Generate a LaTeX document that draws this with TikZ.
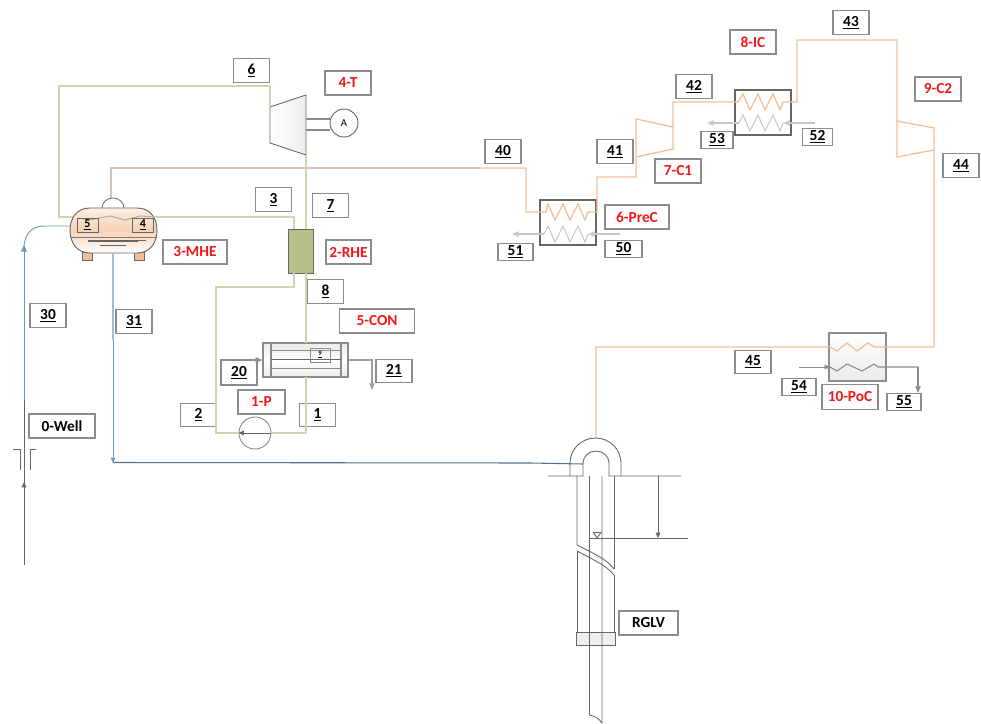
\documentclass[tikz,border=0pt]{standalone}
\usepackage{fontspec}
\setmainfont{Carlito}
\usetikzlibrary{arrows.meta,calc}
\definecolor{pgreen}{HTML}{CDD6AE}
\definecolor{rhegreen}{HTML}{B4C087}
\definecolor{porange}{HTML}{F4BE96}
\definecolor{pgrey}{HTML}{C8C8C8}
\definecolor{pblue}{HTML}{6F97BF}
\definecolor{pblue2}{HTML}{A3BBD6}
\definecolor{pdark}{HTML}{666666}
\definecolor{bordergrey}{HTML}{8C8C8C}
\definecolor{lblred}{HTML}{F01818}
\def\PX{0.75pt}
\tikzset{
  x=0.75pt,y=-0.75pt,
  tag/.style={draw=bordergrey,line width=0.85pt,inner sep=0pt,font=\fontsize{11.5}{13}\selectfont\bfseries,text=black},
  numtag/.style={tag,minimum width=36*\PX,minimum height=23.5*\PX},
  lowtag/.style={tag,minimum width=34*\PX,minimum height=16.5*\PX},
  redtag/.style={tag,text=lblred,minimum height=24*\PX},
  greenp/.style={draw=pgreen,line width=0.8pt},
  orangep/.style={draw=porange,line width=0.95pt},
  greyp/.style={draw=pgrey,line width=0.8pt},
  bluep/.style={draw=pblue,line width=0.7pt},
  well/.style={draw=pdark,line width=0.65pt},
  hxbox/.style={draw=pdark,line width=0.8pt,minimum width=56*\PX,minimum height=45*\PX,inner sep=0pt},
  greytip/.style={-{Triangle[length=5pt,width=4pt]}},
  darktip/.style={-{Triangle[length=4pt,width=3.5pt]}},
}
\newcommand{\nm}[1]{\underline{#1}}
\begin{document}
\begin{tikzpicture}
\useasboundingbox (0,0) rectangle (981,724);

% ---- text tags
\node[numtag] (t6) at (251.5,70.5) {\nm{6}};
\node[redtag,minimum width=46*\PX] (rT) at (348,83) {4-T};
\node[numtag] (t3) at (273.5,199.5) {\nm{3}};
\node[numtag] (t7) at (330.5,205.5) {\nm{7}};
\node[redtag,minimum width=45*\PX] (rRHE) at (348.5,252) {2-RHE};
\node[redtag,minimum width=64*\PX] (rMHE) at (195,252) {3-MHE};
\node[numtag] (t8) at (325.5,291.5) {\nm{8}};
\node[redtag,minimum width=75*\PX] (rCON) at (377,321) {5-CON};
\node[numtag] (t30) at (48,315.5) {\nm{30}};
\node[numtag] (t31) at (134,321.5) {\nm{31}};
\node[numtag,minimum height=25*\PX] (t20) at (239,372.5) {\nm{20}};
\node[numtag] (t21) at (394,371) {\nm{21}};
\node[numtag] (t2) at (198.5,415) {\nm{2}};
\node[redtag,minimum width=47*\PX] (rP) at (261.5,402) {1-P};
\node[numtag] (t1) at (317.5,415) {\nm{1}};
\node[tag,minimum width=66*\PX,minimum height=24*\PX] (tW) at (62,426) {0-Well};
\node[numtag] (t40) at (503,151.5) {\nm{40}};
\node[numtag] (t41) at (615,151.5) {\nm{41}};
\node[numtag] (t42) at (694,86.5) {\nm{42}};
\node[numtag] (t43) at (851,22.5) {\nm{43}};
\node[redtag,minimum width=46*\PX] (rIC) at (753,42) {8-IC};
\node[redtag,minimum width=46*\PX] (rC2) at (938,89) {9-C2};
\node[numtag] (t44) at (961,165.5) {\nm{44}};
\node[lowtag,minimum width=32*\PX] (t53) at (717,140) {\nm{53}};
\node[lowtag,minimum width=30*\PX] (t52) at (817.5,137) {\nm{52}};
\node[redtag,minimum width=46*\PX] (rC1) at (678,171) {7-C1};
\node[redtag,minimum width=64*\PX] (rPre) at (637,217) {6-PreC};
\node[lowtag,minimum width=35*\PX] (t51) at (515.5,252) {\nm{51}};
\node[lowtag,minimum width=37*\PX] (t50) at (623.5,249) {\nm{50}};
\node[numtag] (t45) at (753,362) {\nm{45}};
\node[lowtag] (t54) at (799,387) {\nm{54}};
\node[redtag,minimum width=56*\PX,minimum height=25*\PX] (rPoC) at (850,397) {10-PoC};
\node[lowtag] (t55) at (904,402) {\nm{55}};
\node[redtag,text=black,minimum width=59*\PX] (tR) at (648.5,623) {RGLV};

% ---- equipment
\node[hxbox,fill=white] (PRE) at (568,222.5) {};
\node[hxbox,fill=white] (IC) at (763,112.5) {};
\node[hxbox,draw=bordergrey,top color=white,bottom color=black!8,minimum width=57*\PX,minimum height=48*\PX] (POC) at (857.5,357) {};
\node[draw=pdark,line width=0.6pt,minimum width=25*\PX,minimum height=44*\PX,inner sep=0pt,fill=rhegreen] (RHE) at (300.5,251) {};

% turbine
\coordinate (Ta) at (270,107); \coordinate (Tb) at (306,95);
\coordinate (Tc) at (306,155); \coordinate (Td) at (270,143);
\path[left color=white,right color=black!7] (Ta)--(Tb)--(Tc)--(Td)--cycle;
\draw[draw=pdark,line width=0.7pt] (Ta)--(Tb)--(Tc)--(Td)--cycle;
\node[circle,draw=pdark,line width=0.7pt,minimum size=28*\PX,inner sep=0pt,font=\fontsize{8}{9}\selectfont] (GEN) at (344,123) {A};
\draw[draw=bordergrey,line width=0.8pt] (306,119) -- (GEN.west |- 0,119);
\draw[draw=bordergrey,line width=0.8pt] (306,130) -- (GEN.west |- 0,130);

% compressors
\coordinate (Aa) at (636,119); \coordinate (Ab) at (673,127);
\coordinate (Ac) at (673,149); \coordinate (Ad) at (636,157);
\draw[orangep] (Aa)--(Ab)--(Ac)--(Ad)--cycle;
\coordinate (Ba) at (897,121); \coordinate (Bb) at (934,128);
\coordinate (Bc) at (934,150); \coordinate (Bd) at (897,157);
\draw[orangep] (Ba)--(Bb)--(Bc)--(Bd)--cycle;

% condenser
\node[draw=bordergrey,line width=0.9pt,top color=black!8,bottom color=black!8,middle color=white,minimum width=85*\PX,minimum height=34*\PX,inner sep=0pt] (CON) at (305.5,360) {};
\draw[bordergrey,line width=0.9pt] (271,343)--(271,377) (341,343)--(341,377);
\draw[bordergrey,line width=0.7pt] (271,350)--(341,350) (271,368)--(341,368);
\draw[pdark,line width=0.6pt] (271,359)--(341,359);
\node[draw=bordergrey,line width=0.7pt,minimum width=20*\PX,minimum height=14*\PX,inner sep=0pt,font=\fontsize{5}{6}\selectfont\bfseries] (t9) at (320,355) {\nm{9}};

% pump
\node[circle,draw=bordergrey,line width=0.7pt,minimum size=32*\PX,inner sep=0pt] (PUMP) at (255,433) {};

% ---- pipes
\coordinate (v6) at (59,86);
\coordinate (e3) at (59,217);
\draw[greenp] (Ta) |- (v6) -- (e3) -- (78,217);
\draw[greenp] (157,217) -- (294,217) -- (294,229);
\draw[greenp] (294,273) -- (294,287) -- (216,287) -- (216,433) -- (PUMP.west);
\draw[greenp] (306,155) -- (306,229);
\draw[greenp] (306,273) -- (306,343);
\draw[greenp] (306,377) -- (306,433) -- (PUMP.east);
\draw[darktip,draw=pdark,fill=pdark,line width=0.5pt] (PUMP.east) -- (PUMP.west);

\draw[draw=pgrey!70!porange,line width=0.9pt] (111,198) -- (111,168) -- (480,168);
\draw[orangep] (480,168) -- (526,168) -- (526,212) -- (546,212)
  -- (548,204) -- (555,220) -- (563,204) -- (570,220) -- (578,204) -- (585,220) -- (588,212) -- (597,212)
  -- (597,177) -- (636,177) -- (Ad);
\draw[orangep] (Ab) -- (673,102) -- (738,102)
  -- (743,94) -- (750,110) -- (758,94) -- (765,110) -- (773,94) -- (780,110) -- (783,102) -- (797,102)
  -- (797,40) -- (897,40) -- (Ba);
\draw[orangep] (Bc) -- (934,347) -- (874,347) -- (868,343) -- (857,351) -- (847,343) -- (837,351) -- (830,347) -- (596,347) -- (596,438);

% cooling water streams
\draw[greyp,greytip,fill=pgrey] (620,234) -- (588,234);
\draw[greyp] (588,234) -- (585,242) -- (578,226) -- (570,242) -- (563,226) -- (555,242) -- (548,226) -- (544,234);
\draw[greyp,greytip,fill=pgrey] (544,234) -- (512,234);
\draw[greyp,greytip,fill=pgrey] (815,123) -- (783,123);
\draw[greyp] (783,123) -- (780,131) -- (773,115) -- (765,131) -- (758,115) -- (750,131) -- (743,115) -- (739,123);
\draw[greyp,greytip,fill=pgrey] (739,123) -- (707,123);
\draw[draw=bordergrey,line width=0.7pt,darktip] (799,367) -- (830,367);
\draw[draw=bordergrey,line width=0.8pt] (830,367) -- (837,371) -- (847,364) -- (862,371) -- (874,364) -- (878,367) -- (918,367);
\draw[draw=bordergrey,line width=0.8pt,greytip] (918,367) -- (918,393);
\draw[draw=bordergrey,line width=0.7pt,greytip] (221,360) -- (CON.west |- 0,360);
\draw[draw=pgrey!80!black,line width=0.9pt,greytip] (CON.east |- 0,360) -- (372,360) -- (372,390);

% separator vessel
\draw[draw=pdark,line width=0.6pt,fill=white] (102,208) arc (180:360:11 and 10);
\draw[draw=pdark,line width=0.7pt,fill=porange] (82,252) rectangle (92,260);
\draw[draw=pdark,line width=0.7pt,fill=porange] (134,252) rectangle (144,260);
\draw[draw=pdark,line width=0.7pt,top color=porange!25,bottom color=white,middle color=porange!70]
  (90,208) -- (137,208) .. controls (150,208) and (157,218) .. (157,230)
  .. controls (157,243) and (150,253) .. (137,253) -- (90,253)
  .. controls (77,253) and (70,243) .. (70,230) .. controls (70,218) and (77,208) .. (90,208) -- cycle;
\draw[draw=pdark!80!porange,line width=0.5pt] (70.5,237) -- (156.5,237);
\draw[draw=pdark,line width=0.5pt] (88,240) -- (146,240) (88,241.5) -- (138,241.5) (100,245) -- (126,245);
\draw[draw=pgreen!85!black,line width=0.8pt] (78,218) -- (90,220) -- (110,216) -- (125,220) -- (140,216) -- (157,217);
\node[draw=pdark,line width=0.7pt,minimum width=21*\PX,minimum height=14*\PX,inner sep=0pt,font=\fontsize{9}{10}\selectfont\bfseries] (t5) at (87.5,225) {\nm{5}};
\node[draw=pdark,line width=0.7pt,minimum width=21*\PX,minimum height=14*\PX,inner sep=0pt,font=\fontsize{9}{10}\selectfont\bfseries] (t4) at (143,225) {\nm{4}};

% well flows
\draw[bluep] (70,226) -- (44,226) .. controls (32,226) and (24,234) .. (24,248);
\draw[bluep,-{Triangle[length=5pt,width=4.5pt]}] (24,400) -- (24,245);
\draw[draw=pdark,line width=0.6pt] (24,565) -- (24,400);
\draw[draw=pdark,fill=pdark,line width=0.6pt,darktip] (24,500) -- (24,482);
\draw[draw=pdark,line width=0.7pt] (13,449) -- (20,449) -- (20,470);
\draw[draw=pdark,line width=0.7pt] (36,449) -- (30,449) -- (30,470);
\draw[draw=pblue2,line width=0.9pt] (113,253) -- (113,340);
\draw[draw=pblue,line width=0.75pt,darktip] (113,340) -- (113,463);
\draw[draw=pblue!75!black,line width=0.8pt] (113,462.5) -- (531,463) -- (583,464);

% ---- well
\draw[well] (548,476) -- (570,476) -- (570,463) arc (180:360:25.5 and 25) -- (621,476) -- (681,476);
\draw[well] (570,476) -- (583,476) -- (583,463) arc (180:360:13 and 12) -- (609,476) -- (621,476);
\draw[well] (577,476) -- (577,545) .. controls (590,552) and (606,558) .. (614,569);
\draw[well] (577,551) .. controls (590,558) and (606,565) .. (614,575);
\draw[well] (577,551) -- (577,632);
\draw[well] (614,476) -- (614,569);
\draw[well] (614,575) -- (614,632);
\draw[well,fill=black!6] (576,632) rectangle (615.5,645);
\draw[well] (589.5,476) -- (589.5,715) .. controls (594,716) and (599,718) .. (602,723) -- (602,476);
\draw[well] (589.5,538) -- (688,538);
\draw[well] (597,538) -- (593.5,532.5) -- (601,532.5) -- cycle;
\draw[draw=pdark,line width=0.6pt,darktip,fill=pdark] (658,476) -- (658,538);
\end{tikzpicture}
\end{document}
